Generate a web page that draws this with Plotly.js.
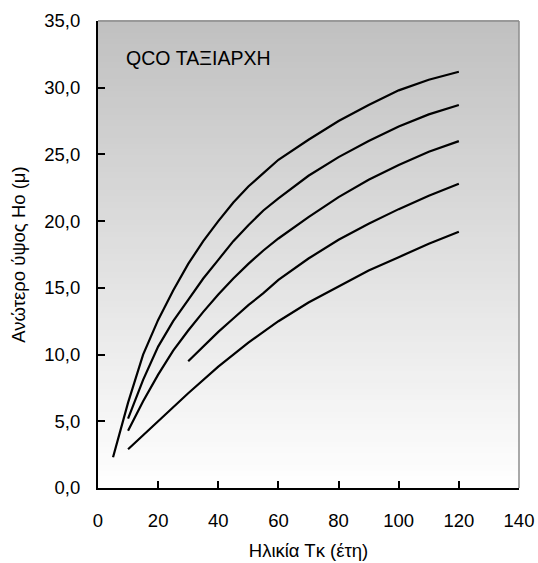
<!DOCTYPE html>
<html>
<head>
<meta charset="utf-8">
<script src="https://cdn.plot.ly/plotly-3.0.1.min.js"></script>
<style>html,body{margin:0;padding:0;background:#fff;}#chart{width:538px;height:563px;}</style>
</head>
<body>
<div id="chart"></div>
<script>
// Data
const ages1 = [5, 10, 15, 20, 25, 30, 35, 40, 45, 50, 55, 60, 70, 80, 90, 100, 110, 120];
const height1 = [2.3, 6.4, 10.0, 12.6, 14.8, 16.8, 18.5, 20.0, 21.4, 22.6, 23.6, 24.6, 26.1, 27.5, 28.7, 29.8, 30.6, 31.2];

const ages2 = [10, 15, 20, 25, 30, 35, 40, 45, 50, 55, 60, 70, 80, 90, 100, 110, 120];
const height2 = [5.2, 8.1, 10.6, 12.5, 14.1, 15.7, 17.1, 18.5, 19.7, 20.8, 21.7, 23.4, 24.8, 26.0, 27.1, 28.0, 28.7];

const ages3 = [10, 15, 20, 25, 30, 35, 40, 45, 50, 55, 60, 70, 80, 90, 100, 110, 120];
const height3 = [4.3, 6.5, 8.5, 10.3, 11.8, 13.2, 14.5, 15.7, 16.8, 17.8, 18.7, 20.3, 21.8, 23.1, 24.2, 25.2, 26.0];

const ages4 = [30, 35, 40, 45, 50, 55, 60, 70, 80, 90, 100, 110, 120];
const height4 = [9.5, 10.6, 11.7, 12.7, 13.7, 14.6, 15.6, 17.2, 18.6, 19.8, 20.9, 21.9, 22.8];

const ages5 = [10, 20, 30, 40, 50, 55, 60, 70, 80, 90, 100, 110, 120];
const height5 = [2.9, 5.0, 7.1, 9.1, 10.9, 11.7, 12.5, 13.9, 15.1, 16.3, 17.3, 18.3, 19.2];

const xTicks = [0, 20, 40, 60, 80, 100, 120, 140];
const yTicks = [0, 5, 10, 15, 20, 25, 30, 35];

const chartLabel = 'QCO ΤΑΞΙΑΡΧΗ';
const xTitle = 'Ηλικία Τκ (έτη)';
const yTitle = 'Ανώτερο ύψος Ho (μ)';

const series = [[ages1, height1], [ages2, height2], [ages3, height3], [ages4, height4], [ages5, height5]];
const traces = series.map(([x, y]) => ({
  x: x, y: y, type: 'scatter', mode: 'lines',
  line: {color: '#000000', width: 2.2},
  hoverinfo: 'skip', showlegend: false
}));

// gradient background (grey at top -> white at bottom)
const shapes = [];
const bands = 80;
for (let i = 0; i < bands; i++) {
  const t = (i + 0.5) / bands; // 0 bottom -> 1 top
  const v = Math.round(255 - 63 * t);
  shapes.push({
    type: 'rect', xref: 'paper', yref: 'paper', layer: 'below',
    x0: 0, x1: 1, y0: i / bands, y1: (i + 1) / bands + 0.002,
    line: {width: 0}, fillcolor: `rgb(${v},${v},${v})`
  });
}
// grey top & right border
shapes.push({type: 'line', xref: 'paper', yref: 'paper', x0: 0, x1: 1, y0: 1, y1: 1, line: {color: '#8c8c8c', width: 1.5}});
shapes.push({type: 'line', xref: 'paper', yref: 'paper', x0: 1, x1: 1, y0: 0, y1: 1, line: {color: '#8c8c8c', width: 1.5}});

const fontFam = 'Liberation Sans, Arial, sans-serif';
const fs = 18.5;
const layout = {
  width: 538, height: 563,
  margin: {l: 98, r: 19, t: 21, b: 75},
  paper_bgcolor: '#ffffff',
  plot_bgcolor: 'rgba(0,0,0,0)',
  separators: ',.',
  font: {family: fontFam, size: fs, color: '#000'},
  xaxis: {
    range: [0, 140], tickvals: xTicks, ticktext: xTicks.map(String),
    showgrid: false, zeroline: false,
    showline: true, linecolor: '#000', linewidth: 2,
    ticks: 'inside', ticklen: 7, tickwidth: 2, tickcolor: '#000',
    ticklabelstandoff: 15,
    tickfont: {family: fontFam, size: fs, color: '#000'},
    title: {text: xTitle, font: {family: fontFam, size: fs, color: '#000'}, standoff: 14}
  },
  yaxis: {
    range: [0, 35], tickvals: yTicks, tickformat: '.1f',
    showgrid: false, zeroline: false,
    showline: true, linecolor: '#000', linewidth: 2,
    ticks: 'inside', ticklen: 7, tickwidth: 2, tickcolor: '#000',
    ticklabelstandoff: 12,
    tickfont: {family: fontFam, size: fs, color: '#000'},
    title: {text: yTitle, font: {family: fontFam, size: fs, color: '#000'}, standoff: 14}
  },
  shapes: shapes,
  annotations: [{
    text: chartLabel, xref: 'x', yref: 'y', x: 8.6, y: 32.2,
    xanchor: 'left', yanchor: 'middle', showarrow: false,
    font: {family: fontFam, size: 19.5, color: '#000'}
  }]
};

Plotly.newPlot('chart', traces, layout, {staticPlot: true, displayModeBar: false});
</script>
</body>
</html>
